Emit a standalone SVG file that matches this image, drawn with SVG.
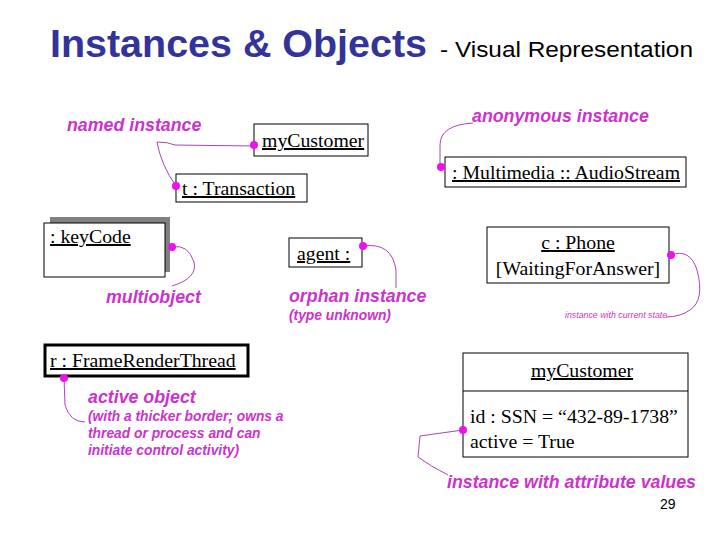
<svg xmlns="http://www.w3.org/2000/svg" width="720" height="540" viewBox="0 0 720 540">
<style>
.box{fill:#fff;stroke:#000;stroke-width:1}
.obj{font-family:"Liberation Serif","Times New Roman",serif;font-size:19.8px;fill:#000}
.u{text-decoration:underline}
.lbl{font-family:"Liberation Sans",Arial,sans-serif;font-weight:bold;font-style:italic;fill:#cc33cc}
.con{fill:none;stroke:#b040c0;stroke-width:1}
.dot{fill:#ee11ee}
</style>
<rect width="720" height="540" fill="#fff"/>
<g id="title">
<text x="50" y="57" font-family="Liberation Sans,Arial,sans-serif" font-weight="bold" font-size="38" fill="#333399" textLength="377" lengthAdjust="spacingAndGlyphs">Instances &amp; Objects</text>
<text x="440" y="57" font-family="Liberation Sans,Arial,sans-serif" font-size="22" fill="#000" textLength="253" lengthAdjust="spacingAndGlyphs">- Visual Representation</text>
</g>
<g id="node-myCustomer">
<rect class="box" x="254" y="124" width="114" height="32"/>
<text class="obj u" x="262" y="147">myCustomer</text>
</g>
<g id="node-transaction">
<rect class="box" x="176" y="174" width="131" height="28"/>
<text class="obj u" x="182" y="195">t : Transaction</text>
</g>
<g id="node-audiostream">
<rect class="box" x="445" y="157" width="241" height="30"/>
<text class="obj u" x="452" y="179">: Multimedia :: AudioStream</text>
</g>
<g id="node-keycode">
<rect x="50" y="217" width="120" height="55" fill="#808080"/>
<rect class="box" x="44" y="223" width="121" height="54"/>
<text class="obj u" x="50" y="243">: keyCode</text>
</g>
<g id="node-agent">
<rect class="box" x="289" y="238" width="73" height="29"/>
<text class="obj u" x="297" y="260">agent :</text>
</g>
<g id="node-phone">
<rect class="box" x="487" y="227" width="182" height="56"/>
<text class="obj u" x="578" y="249" text-anchor="middle">c : Phone</text>
<text class="obj" x="578" y="275" text-anchor="middle">[WaitingForAnswer]</text>
</g>
<g id="node-framerender">
<rect x="45" y="345" width="203" height="31" fill="#fff" stroke="#000" stroke-width="3"/>
<text class="obj u" x="50" y="367">r : FrameRenderThread</text>
</g>
<g id="node-myCustomer-attrs">
<rect class="box" x="463" y="353" width="225" height="104"/>
<line x1="463" y1="391" x2="688" y2="391" stroke="#000" stroke-width="1"/>
<text class="obj u" x="582" y="377" text-anchor="middle">myCustomer</text>
<text class="obj" x="470" y="423">id : SSN = “432-89-1738”</text>
<text class="obj" x="470" y="448">active = True</text>
</g>
<g id="labels">
<text class="lbl" x="67" y="131" font-size="17.8">named instance</text>
<text class="lbl" x="472" y="122" font-size="17.8">anonymous instance</text>
<text class="lbl" x="106" y="303" font-size="17.8">multiobject</text>
<text class="lbl" x="289" y="302" font-size="17.8">orphan instance</text>
<text class="lbl" x="289" y="320" font-size="13.8">(type unknown)</text>
<text x="565" y="318" font-family="Liberation Sans,Arial,sans-serif" font-style="italic" font-size="8.8" fill="#cc33cc">instance with current state</text>
<text class="lbl" x="88" y="403" font-size="17.8">active object</text>
<text class="lbl" x="88" y="421" font-size="13.8">(with a thicker border; owns a</text>
<text class="lbl" x="88" y="438" font-size="13.8">thread or process and can</text>
<text class="lbl" x="88" y="455" font-size="13.8">initiate control activity)</text>
<text class="lbl" x="447" y="488" font-size="17.8">instance with attribute values</text>
<text x="660" y="509" font-family="Liberation Sans,Arial,sans-serif" font-size="14" fill="#000">29</text>
</g>
<g id="connectors">
<path class="con" d="M254,146 L175,145 Q168,142 157,142"/>
<path class="con" d="M157,142 Q161,165 176,186"/>
<path class="con" d="M473,123 Q440,125 440,145 L440,166"/>
<path class="con" d="M173,247 Q188,244 194,262 Q198,278 172,286"/>
<path class="con" d="M363,246 Q392,242 396,270 L396,288"/>
<path class="con" d="M671,255 Q690,248 697,270 Q705,300 690,310 Q680,317 666,317"/>
<path class="con" d="M64,378 L65,405 Q70,422 85,422"/>
<path class="con" d="M463,430 L420,436 L418,457 Q430,466 448,475"/>
<circle class="dot" cx="254" cy="145" r="4"/>
<circle class="dot" cx="176" cy="186" r="4"/>
<circle class="dot" cx="441" cy="167" r="4"/>
<circle class="dot" cx="172" cy="247" r="4"/>
<circle class="dot" cx="363" cy="246" r="4"/>
<circle class="dot" cx="671" cy="255" r="4"/>
<circle class="dot" cx="64" cy="378" r="4"/>
<circle class="dot" cx="463" cy="430" r="4"/>
</g>
</svg>
